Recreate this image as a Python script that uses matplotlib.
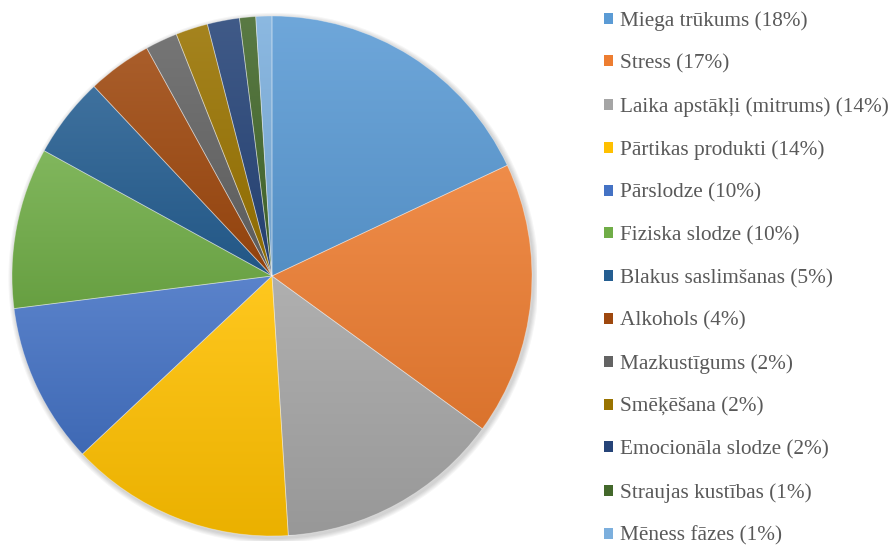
import matplotlib.pyplot as plt
import numpy as np
from matplotlib.colors import to_rgb
from matplotlib.patches import Patch, Circle

plt.rcParams['font.family'] = ['Liberation Serif', 'DejaVu Serif']

labels = ['Miega trūkums', 'Stress', 'Laika apstākļi (mitrums)', 'Pārtikas produkti',
          'Pārslodze', 'Fiziska slodze', 'Blakus saslimšanas', 'Alkohols',
          'Mazkustīgums', 'Smēķēšana', 'Emocionāla slodze', 'Straujas kustības',
          'Mēness fāzes']
shares = [18, 17, 14, 14, 10, 10, 5, 4, 2, 2, 2, 1, 1]
colors = ['#5B9BD5', '#ED7D31', '#A5A5A5', '#FFC000', '#4472C4', '#70AD47',
          '#255E91', '#9E480E', '#636363', '#997300', '#264478', '#43682B',
          '#7CAFDD']

W, H = 891, 546
fig = plt.figure(figsize=(W / 100, H / 100), dpi=100)
cx, cy, r = 272, 276, 260
ax = fig.add_axes([(cx - r) / W, (H - cy - r) / H, 2 * r / W, 2 * r / H])

# soft shadow under the pie
for k in range(1, 6):
    ax.add_patch(Circle((0.006, -0.008), 1 + 0.004 * k, color='black',
                        alpha=0.035, lw=0, zorder=0))

wedges, _ = ax.pie(shares, colors=colors, startangle=90, counterclock=False,
                   radius=1, wedgeprops=dict(lw=0.6, edgecolor=(1, 1, 1, 0.35)))


def shade(c):
    # light at the top of each slice, a bit darker at the bottom
    c = np.array(to_rgb(c))
    top = c + (1 - c) * 0.12
    bot = c * 0.92
    t = np.linspace(0, 1, 256)[:, None, None]
    return top * (1 - t) + bot * t


for w, c in zip(wedges, colors):
    ext = w.get_path().get_extents()
    im = ax.imshow(shade(c), extent=[ext.x0, ext.x1, ext.y0, ext.y1],
                   origin='upper', aspect='auto', interpolation='bilinear',
                   zorder=w.get_zorder())
    im.set_clip_path(w)
    w.set_facecolor('none')
    w.set_zorder(w.get_zorder() + 0.1)

ax.set_xlim(-1.02, 1.02)
ax.set_ylim(-1.02, 1.02)
ax.set_aspect('equal')
ax.axis('off')
ax.set_position([(cx - r * 1.02) / W, (H - cy - r * 1.02) / H,
                 2 * r * 1.02 / W, 2 * r * 1.02 / H])

handles = [Patch(facecolor=c, edgecolor='none') for c in colors]
texts = [f'{l} ({s}%)' for l, s in zip(labels, shares)]
leg = fig.legend(handles, texts, loc='upper left', bbox_to_anchor=(604 / W, 1 - 11 / H),
                 frameon=False, fontsize=15.3, handlelength=0.42, handleheight=0.42,
                 handletextpad=0.33, labelspacing=1.105, borderpad=0, borderaxespad=0)
for t in leg.get_texts():
    t.set_color('#595959')

fig.savefig('out.png', dpi=100)
